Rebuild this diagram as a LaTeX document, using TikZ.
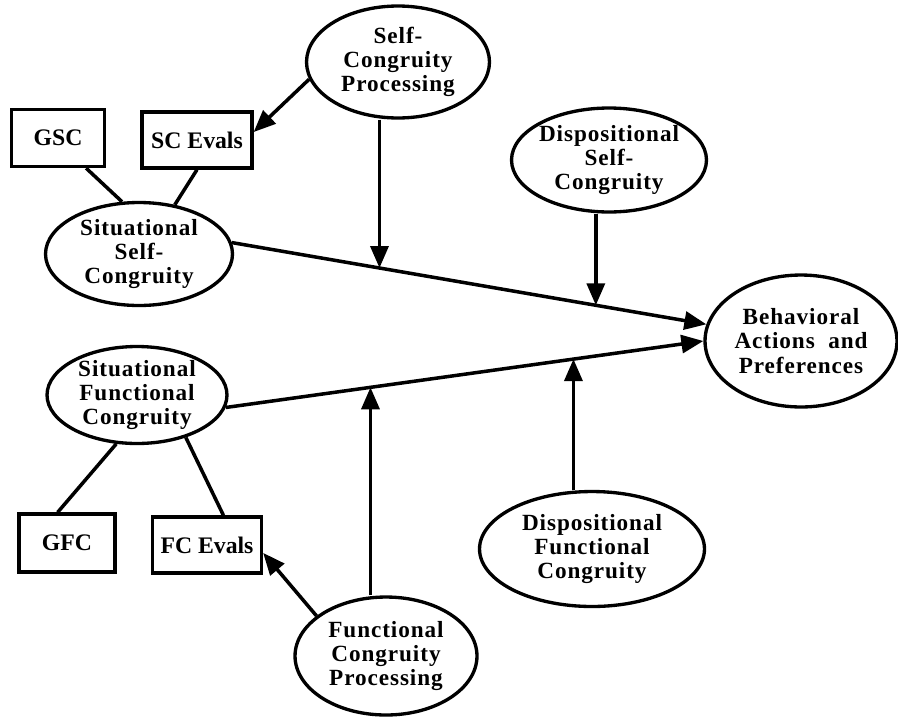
\documentclass[tikz,border=0pt]{standalone}
\usepackage{fontspec}
\setmainfont{Liberation Serif}
\newfontfamily\espace[LetterSpace=4]{Liberation Serif}
\usetikzlibrary{shapes.geometric, arrows.meta}

\tikzset{latente/.style 2 args = {ellipse, draw, line width = 1.9pt, inner sep = -3pt,
                                  align = center, minimum width = #1, minimum height = #2,
                                  font = \espace\bfseries\fontsize{13.2}{13.8}\selectfont},
         mesure/.style 2 args = {rectangle, draw, line width = 1.9pt,
                                 minimum width = #1, minimum height = #2,
                                 font = \bfseries\fontsize{13.5}{14}\selectfont},
         lien/.style = {line width = 2pt},
         fleche/.style = {lien, -{Triangle[length = 0.44cm, width = 0.36cm]}}
        }

\begin{document}
\begin{tikzpicture}[x = 0.02cm, y = -0.02cm]
  \useasboundingbox (0,0) rectangle (898,717);

  % variables latentes
  \node[latente = {3.66cm}{2.24cm}] (scp) at (398,62)  {Self-\\Congruity\\Processing};
  \node[latente = {3.74cm}{2.06cm}] (ssc) at (139,254) {Situational\\Self-\\Congruity};
  \node[latente = {3.9cm}{2.08cm}]  (dsc) at (609,160) {Dispositional\\Self-\\Congruity};
  \node[latente = {3.84cm}{2.64cm}] (bap) at (801,341) {Behavioral\\Actions\ \ and\\Preferences};
  \node[latente = {3.6cm}{1.94cm}]  (sfc) at (137,395) {Situational\\Functional\\Congruity};
  \node[latente = {3.64cm}{2.36cm}] (fcp) at (386,656) {Functional\\Congruity\\Processing};
  \node[latente = {4.5cm}{2.3cm}]   (dfc) at (592,549) {Dispositional\\Functional\\Congruity};

  % mesures
  \node[mesure = {1.86cm}{1.14cm}] (gsc)    at (58,138)  {GSC};
  \node[mesure = {2.2cm}{1.12cm}]  (sceval) at (197,140) {SC Evals};
  \node[mesure = {1.92cm}{1.16cm}] (gfc)    at (67,543)  {GFC};
  \node[mesure = {2.18cm}{1.12cm}] (fceval) at (207,545) {FC Evals};

  \draw[lien] (gsc.313) -- (ssc.108);
  \draw[lien] (sceval.south) -- (ssc.54);
  \draw[lien] (sfc.247) -- (gfc.107);
  \draw[lien] (sfc.319) -- (fceval.61);

  % effets principaux
  \draw[fleche] (ssc.7) -- (bap.170)
    coordinate[pos = 0.311] (m1) coordinate[pos = 0.767] (m2);
  \draw[fleche] (sfc.352) -- (bap.west)
    coordinate[pos = 0.303] (m3) coordinate[pos = 0.728] (m4);

  % moderateurs
  \draw[fleche] (scp.191) -- (sceval.8);
  \draw[fleche] (fcp.150) -- (fceval.352);
  \draw[fleche] (m1 |- scp.south) -- (m1);
  \draw[fleche] (m2 |- dsc.south) -- (m2);
  \draw[fleche] (m3 |- fcp.north) -- (m3);
  \draw[fleche] (m4 |- dfc.north) -- (m4);
\end{tikzpicture}
\end{document}
